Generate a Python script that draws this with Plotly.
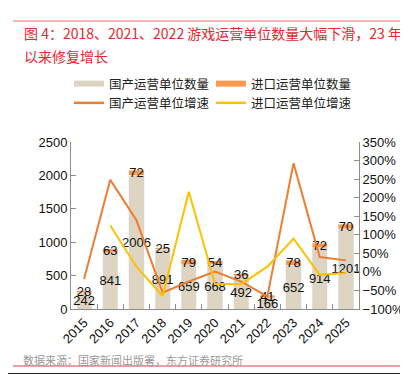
import plotly.graph_objects as go

years = ["2015", "2016", "2017", "2018", "2019", "2020", "2021", "2022", "2023", "2024", "2025"]
domestic = [242, 841, 2006, 891, 659, 668, 492, 166, 652, 914, 1201]
imported = [28, 63, 72, 25, 79, 54, 36, 41, 78, 72, 70]
domestic_growth = [-19, 248, 139, -56, -26, 1, -26, -66, 293, 40, 31]
import_growth = [None, 125, 14, -65, 216, -32, -33, 14, 90, -8, -3]

FONT = "Liberation Sans, Arial, Noto Sans CJK SC"
CJK = "Noto Sans CJK SC, Liberation Sans"
C_DOM = "#DDD5C1"
C_IMP = "#F79A50"
C_DG = "#ED7D31"
C_IG = "#FFC000"

fig = go.Figure()
fig.add_trace(go.Bar(x=years, y=domestic, marker_color=C_DOM, name="国产运营单位数量",
                     text=[str(v) for v in domestic], textposition="inside", insidetextanchor="middle",
                     textangle=0, constraintext="none", textfont=dict(color="#111", size=13, family=FONT),
                     showlegend=False, cliponaxis=False))
fig.add_trace(go.Bar(x=years, y=imported, marker_color=C_IMP, name="进口运营单位数量",
                     text=[str(v) for v in imported], textposition="inside", insidetextanchor="middle",
                     textangle=0, constraintext="none", textfont=dict(color="#111", size=13, family=FONT),
                     showlegend=False, cliponaxis=False))
fig.add_trace(go.Scatter(x=years, y=domestic_growth, yaxis="y2", mode="lines",
                         line=dict(color=C_DG, width=2), name="国产运营单位增速", showlegend=False))
fig.add_trace(go.Scatter(x=years, y=import_growth, yaxis="y2", mode="lines",
                         line=dict(color=C_IG, width=2), name="进口运营单位增速", showlegend=False))

# legend proxies
for nm, col, w in [("国产运营单位数量", C_DOM, 6), ("进口运营单位数量", C_IMP, 6),
                   ("国产运营单位增速", C_DG, 2.5), ("进口运营单位增速", C_IG, 2.5)]:
    fig.add_trace(go.Scatter(x=[None], y=[None], mode="lines", name=nm,
                             line=dict(color=col, width=w), showlegend=True))

L, R, T, B = 63, 57, 134, 74
W, H = 408, 375
pw, ph = W - L - R, H - T - B

def px(x):
    return (x - L) / pw

def py(y):
    return (H - B - y) / ph

fig.update_layout(
    width=W, height=H,
    margin=dict(l=L, r=R, t=T, b=B),
    paper_bgcolor="white", plot_bgcolor="white",
    barmode="stack", bargap=0.42,
    font=dict(family=FONT, size=13, color="#111"),
    legend=dict(orientation="h", x=px(61), xanchor="left", y=py(61), yanchor="top",
                entrywidth=97, entrywidthmode="pixels", traceorder="normal",
                font=dict(family=CJK, size=12.5, color="#222"),
                itemwidth=30, tracegroupgap=0, bgcolor="rgba(0,0,0,0)"),
    xaxis=dict(type="category", showline=True, linecolor="#8c8c8c", linewidth=1,
               ticks="inside", tickson="boundaries", ticklen=5, tickcolor="#8c8c8c",
               tickangle=-45, tickfont=dict(size=13, family=FONT), showgrid=False),
    yaxis=dict(range=[0, 2500], dtick=500, showline=True, linecolor="#8c8c8c", linewidth=1,
               ticks="inside", ticklen=5, tickcolor="#8c8c8c", showgrid=False, zeroline=False,
               tickfont=dict(size=13, family=FONT)),
    yaxis2=dict(range=[-100, 350], dtick=50, overlaying="y", side="right", showline=True,
                linecolor="#8c8c8c", linewidth=1, ticks="inside", ticklen=5, tickcolor="#8c8c8c",
                ticksuffix="%", showgrid=False, zeroline=False, tickfont=dict(size=13, family=FONT)),
    shapes=[
        dict(type="line", xref="paper", yref="paper", x0=px(5), x1=px(408), y0=py(13), y1=py(13),
             line=dict(color="#E86A6A", width=1)),
        dict(type="line", xref="paper", yref="paper", x0=px(5), x1=px(408), y0=py(358), y1=py(358),
             line=dict(color="#D94040", width=1)),
        dict(type="line", xref="paper", yref="paper", x0=px(0), x1=px(408), y0=py(365.5), y1=py(365.5),
             line=dict(color="#222", width=1)),
    ],
    annotations=[
        dict(xref="paper", yref="paper", x=px(14), y=py(25), xanchor="left", yanchor="middle",
             text="图 4：2018、2021、2022 游戏运营单位数量大幅下滑，23 年", showarrow=False,
             font=dict(family=CJK, size=14, color="#E8262E")),
        dict(xref="paper", yref="paper", x=px(14), y=py(48), xanchor="left", yanchor="middle",
             text="以来修复增长", showarrow=False,
             font=dict(family=CJK, size=14, color="#E8262E")),
        dict(xref="paper", yref="paper", x=px(13), y=py(352), xanchor="left", yanchor="middle",
             text="数据来源：国家新闻出版署，东方证券研究所", showarrow=False,
             font=dict(family=CJK, size=11, color="#999")),
        dict(xref="paper", yref="paper", x=px(-1), y=py(372), xanchor="left", yanchor="middle",
             text="或请与您的投资代表联系，并请阅读本证券研究报告最后一页的免责申明", showarrow=False,
             font=dict(family=CJK, size=11.5, color="#111")),
    ],
)

fig.write_html("out.html")
